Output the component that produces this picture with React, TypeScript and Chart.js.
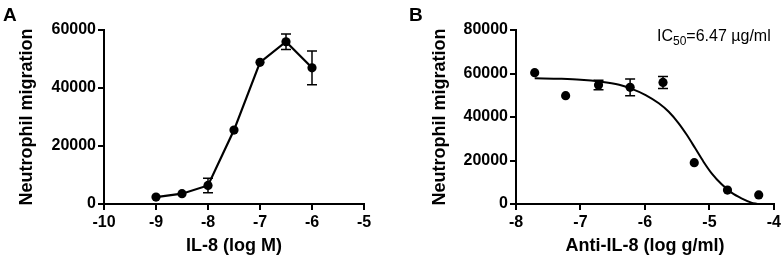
import React, { useEffect, useRef } from "react";
import { Chart, registerables } from "chart.js";

Chart.register(...registerables);

const FONT = "'Liberation Sans', Arial, Helvetica, sans-serif";

// Panel A: IL-8 dose response
const aDoses = [-9, -8.5, -8, -7.5, -7, -6.5, -6];
const aMigration = [2400, 3550, 6400, 25500, 48850, 55950, 46950];
const aError = [0, 0, 2500, 0, 0, 2650, 5800];

// Panel B: Anti-IL-8 inhibition
const bDoses = [-7.71, -7.23, -6.72, -6.23, -5.72, -5.235, -4.72, -4.235];
const bMigration = [60400, 49800, 54700, 53650, 55900, 19000, 6400, 4150];
const bError = [0, 0, 2150, 3850, 2750, 0, 0, 0];

// Fitted curve
const fitX = [-7.71, -7.3, -7.0, -6.7, -6.4, -6.195, -5.989, -5.785, -5.631, -5.477, -5.349, -5.22, -5.092, -4.965, -4.81, -4.657, -4.503, -4.35, -4.257];
const fitY = [57800, 57550, 57150, 56300, 54800, 52800, 50100, 46300, 42400, 37100, 31700, 25600, 19450, 14100, 9050, 5200, 2600, 650, 0];

const aXRange = [-10, -5];
const aYRange = [0, 60000];
const bXRange = [-8, -4];
const bYRange = [0, 80000];
const yStep = 20000;

const errorBarsPlugin = {
  id: "errorBars",
  afterDatasetsDraw(chart: any, _args: any, opts: any) {
    if (!opts || !opts.errors) return;
    const ds = chart.data.datasets[opts.datasetIndex];
    const xs = chart.scales.x;
    const ys = chart.scales.y;
    const ctx = chart.ctx;
    ctx.save();
    ctx.strokeStyle = "#000";
    ctx.lineWidth = 1.5;
    ds.data.forEach((p: any, j: number) => {
      const e = opts.errors[j];
      if (!e) return;
      const x = xs.getPixelForValue(p.x);
      const y1 = ys.getPixelForValue(p.y + e);
      const y2 = ys.getPixelForValue(p.y - e);
      ctx.beginPath();
      ctx.moveTo(x, y1);
      ctx.lineTo(x, y2);
      ctx.moveTo(x - 5, y1);
      ctx.lineTo(x + 5, y1);
      ctx.moveTo(x - 5, y2);
      ctx.lineTo(x + 5, y2);
      ctx.stroke();
    });
    ctx.restore();
  },
};

const panelTextPlugin = {
  id: "panelText",
  afterDraw(chart: any, _args: any, opts: any) {
    if (!opts) return;
    const ctx = chart.ctx;
    ctx.save();
    ctx.fillStyle = "#000";
    ctx.textBaseline = "alphabetic";
    ctx.textAlign = "left";
    ctx.font = `bold 19px ${FONT}`;
    ctx.fillText(opts.label, opts.labelX, 21);
    if (opts.ic50) {
      let x = opts.ic50X;
      ctx.font = `16px ${FONT}`;
      ctx.fillText("IC", x, 41);
      x += ctx.measureText("IC").width;
      ctx.font = `12px ${FONT}`;
      ctx.fillText("50", x, 45);
      x += ctx.measureText("50").width;
      ctx.font = `16px ${FONT}`;
      ctx.fillText("=6.47 µg/ml", x, 41);
    }
    ctx.restore();
  },
};

function axisCommon(min: number, max: number, step: number, title: string, isY: boolean, titlePad: any) {
  return {
    type: "linear",
    min,
    max,
    ticks: {
      stepSize: step,
      color: "#000",
      padding: isY ? 2 : 3,
      font: { family: FONT, size: 16, weight: "bold" },
      callback: (v: any) => String(v),
    },
    grid: {
      display: true,
      drawOnChartArea: false,
      drawTicks: true,
      tickLength: 6,
      color: "#000",
      lineWidth: 2,
    },
    border: { display: true, color: "#000", width: 2 },
    title: {
      display: true,
      text: title,
      color: "#000",
      font: { family: FONT, size: 18, weight: "bold" },
      padding: titlePad,
    },
  };
}

function makeConfig(panel: "A" | "B"): any {
  const isA = panel === "A";
  const datasets: any[] = [];
  if (isA) {
    datasets.push({
      data: aDoses.map((x, i) => ({ x, y: aMigration[i] })),
      showLine: true,
      borderColor: "#000",
      backgroundColor: "#000",
      borderWidth: 2.2,
      pointRadius: 4.6,
      pointBackgroundColor: "#000",
      pointBorderWidth: 0,
      tension: 0,
    });
  } else {
    datasets.push({
      data: fitX.map((x, i) => ({ x, y: fitY[i] })),
      showLine: true,
      borderColor: "#000",
      borderWidth: 2,
      pointRadius: 0,
      cubicInterpolationMode: "monotone",
    });
    datasets.push({
      data: bDoses.map((x, i) => ({ x, y: bMigration[i] })),
      showLine: false,
      backgroundColor: "#000",
      borderColor: "#000",
      pointRadius: 4.6,
      pointBorderWidth: 0,
    });
  }
  const xr = isA ? aXRange : bXRange;
  const yr = isA ? aYRange : bYRange;
  const xScale: any = axisCommon(xr[0], xr[1], 1, isA ? "IL-8 (log M)" : "Anti-IL-8 (log g/ml)", false, { top: 0, bottom: 3 });
  xScale.afterFit = (s: any) => {
    s.height = 56;
  };
  const yScale: any = axisCommon(yr[0], yr[1], yStep, "Neutrophil migration", true, { top: isA ? 16 : 37, bottom: 0 });
  yScale.afterFit = (s: any) => {
    s.width = isA ? 104 : 124;
  };
  return {
    type: "scatter",
    data: { datasets },
    options: {
      animation: false,
      responsive: false,
      devicePixelRatio: 1,
      layout: { padding: { top: 30, left: 0, right: isA ? 28 : 8, bottom: 0 } },
      plugins: {
        legend: { display: false },
        tooltip: { enabled: false },
        errorBars: isA ? { datasetIndex: 0, errors: aError } : { datasetIndex: 1, errors: bError },
        panelText: isA ? { label: "A", labelX: 3 } : { label: "B", labelX: 17, ic50: true, ic50X: 265 },
      },
      scales: { x: xScale, y: yScale },
    },
    plugins: [errorBarsPlugin, panelTextPlugin],
  };
}

function Panel({ panel }: { panel: "A" | "B" }) {
  const ref = useRef<HTMLCanvasElement | null>(null);
  useEffect(() => {
    if (!ref.current) return;
    const chart = new Chart(ref.current, makeConfig(panel));
    return () => chart.destroy();
  }, [panel]);
  return <canvas ref={ref} width={392} height={260} style={{ display: "block", width: 392, height: 260 }} />;
}

export default function App() {
  return (
    <div style={{ position: "absolute", left: 0, top: 0, width: 784, height: 260, display: "flex", background: "#fff" }}>
      <Panel panel="A" />
      <Panel panel="B" />
    </div>
  );
}
